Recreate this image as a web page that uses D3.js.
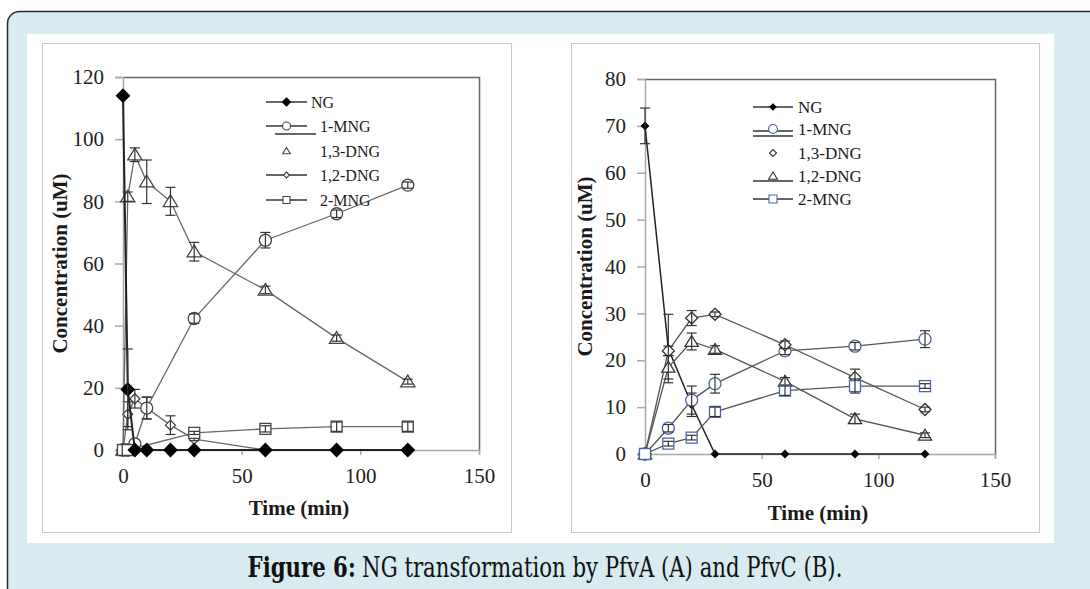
<!DOCTYPE html>
<html>
<head>
<meta charset="utf-8">
<script src="https://cdn.jsdelivr.net/npm/d3@7"></script>
<style>
  body { margin: 0; background: #fff; }
  text { font-family: "Liberation Serif", "Times New Roman", serif; }
</style>
</head>
<body>
<svg width="1090" height="589"></svg>
<script>
// ---- panel A (PfvA) ----
var timeA = [0, 2, 5, 10, 20, 30, 60, 90, 120];
var ngA = [114, 19.5, 0, 0, 0, 0, 0, 0, 0];
var ngErrA = [0, 13, 0, 0, 0, 0, 0, 0, 0];
var mng1A = [0, 0, 2, 13.5, null, 42.3, 67.5, 76, 85.2];
var mng1ErrA = [0, 0, 0, 3.5, null, 1.5, 2.5, 1.2, 1];
var dng13A = [0, 81.5, 95, 86.3, 80, 63.8, 51.5, 36, 22];
var dng13ErrA = [0, 1.5, 2.2, 7, 4.5, 3, 1.2, 1, 0.8];
var dng12A = [0, 11.5, 16.5, 13.5, 8, 3.5, 0, 0, 0];
var dng12ErrA = [0, 4, 3, 3.5, 3, 0.5, 0, 0, 0];
var mng2A = [0, 0, null, null, null, 5.5, 6.8, 7.5, 7.5];
var mng2ErrA = [0, 0, null, null, null, 0.5, 1, 1.5, 1.5];

// ---- panel B (PfvC) ----
var timeB = [0, 10, 20, 30, 60, 90, 120];
var ngB = [70, 22.5, 10.5, 0, 0, 0, 0];
var ngErrB = [3.8, 7.3, 2.5, 0, 0, 0, 0];
var mng1B = [0, 5.5, 11.5, 15, 22, 23, 24.5];
var mng1ErrB = [0, 0.8, 3, 2, 0.8, 0.8, 1.8];
var dng13B = [0, 22, 29, 29.8, 23.3, 16.3, 9.5];
var dng13ErrB = [0, 1, 1.6, 0.5, 0.8, 1.8, 0.5];
var dng12B = [0, 18.5, 24, 22.3, 15.5, 7.5, 4];
var dng12ErrB = [0, 2.5, 1.8, 0.8, 0.8, 1, 0.5];
var mng2B = [0, 2.2, 3.5, 9, 13.5, 14.5, 14.5];
var mng2ErrB = [0, 0.5, 0.5, 1, 1, 1.5, 0.5];

var xTicks = [0, 50, 100, 150];
var yTicksA = [0, 20, 40, 60, 80, 100, 120];
var yTicksB = [0, 10, 20, 30, 40, 50, 60, 70, 80];
var seriesNames = ['NG', '1-MNG', '1,3-DNG', '1,2-DNG', '2-MNG'];
var captionBold = 'Figure 6:';
var captionRest = 'NG transformation by PfvA (A) and PfvC (B).';

var blue = '#4a66a8';

var svg = d3.select('svg');

// 0. frame
// ----------------------------------
svg.append('rect')
    .attr('x', 7.5).attr('y', 11.5)
    .attr('width', 1110).attr('height', 620)
    .attr('rx', 12)
    .style('fill', '#d7ebf0')
    .style('stroke', '#2a2a2a')
    .style('stroke-width', 1.5);

svg.append('rect')
    .attr('x', 27).attr('y', 34)
    .attr('width', 1027).attr('height', 509)
    .style('fill', '#fff');

[[42, 43, 469, 489], [571, 43, 468, 489]].forEach(function (b) {
    svg.append('rect')
        .attr('x', b[0] + 0.5).attr('y', b[1] + 0.5)
        .attr('width', b[2]).attr('height', b[3])
        .style('fill', 'none')
        .style('stroke', '#c9c9c9');
});

// marker shapes
function shapePath(shape, s) {
    if (shape === 'diamond') return 'M0,' + (-s) + 'L' + s + ',0L0,' + s + 'L' + (-s) + ',0Z';
    if (shape === 'triangle') return 'M0,' + (-s) + 'L' + (s * 1.1) + ',' + (s * 0.8) + 'L' + (-s * 1.1) + ',' + (s * 0.8) + 'Z';
    if (shape === 'square') return 'M' + (-s) + ',' + (-s) + 'h' + (2 * s) + 'v' + (2 * s) + 'h' + (-2 * s) + 'Z';
    return d3.arc()({innerRadius: 0, outerRadius: s, startAngle: 0, endAngle: 2 * Math.PI});
}

function drawPanel(p) {
    var x = d3.scaleLinear().domain([0, 150]).range([p.left, p.right]);
    var y = d3.scaleLinear().domain([0, p.yMax]).range([p.bottom, p.top]);
    var g = svg.append('g');

    // plot frame (top / right darker)
    g.append('path')
        .attr('d', 'M' + p.left + ',' + (p.top + 0.5) + 'H' + (p.right + 0.5) + 'V' + p.bottom)
        .style('fill', 'none').style('stroke', '#666').style('stroke-width', 1.5);

    var yAxis = g.append('g')
        .attr('transform', 'translate(' + p.left + ',0)')
        .call(d3.axisLeft(y).tickValues(p.yTicks).tickSize(8).tickPadding(11));
    var xAxis = g.append('g')
        .attr('transform', 'translate(0,' + p.bottom + ')')
        .call(d3.axisBottom(x).tickValues(xTicks).tickSize(5).tickPadding(13));
    [yAxis, xAxis].forEach(function (a) {
        a.selectAll('path, line').style('stroke', '#a8a8a8').style('stroke-width', 1.5);
        a.selectAll('text')
            .style('font-family', '"Liberation Serif", serif')
            .style('font-size', '21px')
            .style('fill', '#222');
    });
    xAxis.select('.tick line').remove();

    g.append('text')
        .attr('transform', 'translate(' + p.yTitleX + ',' + ((p.top + p.bottom) / 2) + ') rotate(-90)')
        .attr('text-anchor', 'middle')
        .attr('dy', '0.35em')
        .style('font-weight', 'bold').style('font-size', '21px').style('fill', '#1a1a1a')
        .text('Concentration (uM)');
    g.append('text')
        .attr('x', (p.left + p.right) / 2 - 2)
        .attr('y', p.xTitleY)
        .attr('text-anchor', 'middle')
        .style('font-weight', 'bold').style('font-size', '21px').style('fill', '#1a1a1a')
        .text('Time  (min)');

    var line = d3.line()
        .x(function (d) { return x(d.t); })
        .y(function (d) { return y(d.v); });

    // draw order differs from legend order so the zero markers stack as in the figure
    p.drawOrder.forEach(function (k) {
        var s = p.series[k];
        var pts = p.time.map(function (t, i) { return {t: t, v: s.values[i], e: s.errors[i]}; });
        var valid = pts.filter(function (d) { return d.v !== null; });
        g.append('path')
            .datum(valid)
            .attr('d', line)
            .style('fill', 'none')
            .style('stroke', s.lineColor)
            .style('stroke-width', s.lineWidth);
        g.selectAll(null).data(valid).enter().append('path')
            .attr('transform', function (d) { return 'translate(' + x(d.t) + ',' + y(d.v) + ')'; })
            .attr('d', shapePath(s.shape, s.size))
            .style('fill', s.fill)
            .style('stroke', s.stroke)
            .style('stroke-width', 1.3);
        var eb = g.selectAll(null).data(valid.filter(function (d) { return d.e > 0; })).enter()
            .append('g').style('stroke', '#333').style('stroke-width', 1.2);
        eb.append('line')
            .attr('x1', function (d) { return x(d.t); }).attr('x2', function (d) { return x(d.t); })
            .attr('y1', function (d) { return y(d.v - d.e); }).attr('y2', function (d) { return y(d.v + d.e); });
        [1, -1].forEach(function (sg) {
            eb.append('line')
                .attr('x1', function (d) { return x(d.t) - 5; }).attr('x2', function (d) { return x(d.t) + 5; })
                .attr('y1', function (d) { return y(d.v + sg * d.e); }).attr('y2', function (d) { return y(d.v + sg * d.e); });
        });
    });

    // legend
    var lg = g.append('g');
    p.series.forEach(function (s, i) {
        var ly = p.legendY[i];
        var L = p.legend;
        if (s.legendLine !== false) {
            lg.append('line')
                .attr('x1', L.x1).attr('x2', L.x2)
                .attr('y1', ly + (s.legendLineDy || 0)).attr('y2', ly + (s.legendLineDy || 0))
                .style('stroke', '#333').style('stroke-width', 1.5);
        }
        if (s.legendExtra) {
            lg.append('line')
                .attr('x1', L.x1 + s.legendExtra[0]).attr('x2', L.x2 + s.legendExtra[0])
                .attr('y1', ly + s.legendExtra[1]).attr('y2', ly + s.legendExtra[1])
                .style('stroke', '#333').style('stroke-width', 1.5);
        }
        lg.append('path')
            .attr('transform', 'translate(' + ((L.x1 + L.x2) / 2) + ',' + ly + ')')
            .attr('d', shapePath(s.shape, s.legendSize))
            .style('fill', s.fill).style('stroke', s.stroke).style('stroke-width', 1.1);
        lg.append('text')
            .attr('x', i === 0 ? L.textX0 : L.textX)
            .attr('y', ly)
            .attr('dy', '0.35em')
            .style('font-size', L.fontSize + 'px')
            .style('fill', '#1a1a1a')
            .text(seriesNames[i]);
    });
}

drawPanel({
    left: 123, right: 479, top: 77, bottom: 450, yMax: 120,
    yTicks: yTicksA, yTitleX: 60, xTitleY: 515,
    time: timeA,
    drawOrder: [3, 2, 1, 4, 0],
    legend: {x1: 266, x2: 307, textX0: 311, textX: 320, fontSize: 16},
    legendY: [102, 126, 151, 175, 200],
    series: [
        {values: ngA, errors: ngErrA, shape: 'diamond', size: 6.5, fill: '#000', stroke: '#000', lineColor: '#222', lineWidth: 2, legendSize: 4},
        {values: mng1A, errors: mng1ErrA, shape: 'circle', size: 6, fill: '#fff', stroke: '#444', lineColor: '#666', lineWidth: 1.3, legendSize: 4, legendExtra: [9, 8]},
        {values: dng13A, errors: dng13ErrA, shape: 'triangle', size: 6.5, fill: '#fff', stroke: '#444', lineColor: '#666', lineWidth: 1.3, legendSize: 3.5, legendLine: false},
        {values: dng12A, errors: dng12ErrA, shape: 'diamond', size: 5, fill: '#fff', stroke: '#444', lineColor: '#666', lineWidth: 1.3, legendSize: 3},
        {values: mng2A, errors: mng2ErrA, shape: 'square', size: 5.5, fill: '#fff', stroke: '#444', lineColor: '#666', lineWidth: 1.3, legendSize: 3.5}
    ]
});

drawPanel({
    left: 645, right: 995, top: 79, bottom: 454, yMax: 80,
    yTicks: yTicksB, yTitleX: 585, xTitleY: 520,
    time: timeB,
    drawOrder: [0, 1, 2, 3, 4],
    legend: {x1: 753, x2: 793, textX0: 798, textX: 798, fontSize: 17},
    legendY: [107, 129, 153, 176, 199],
    series: [
        {values: ngB, errors: ngErrB, shape: 'diamond', size: 3.5, fill: '#000', stroke: '#000', lineColor: '#222', lineWidth: 1.5, legendSize: 3},
        {values: mng1B, errors: mng1ErrB, shape: 'circle', size: 6, fill: '#fff', stroke: blue, lineColor: '#555', lineWidth: 1.3, legendSize: 4.5, legendLineDy: 2, legendExtra: [0, 7]},
        {values: dng13B, errors: dng13ErrB, shape: 'diamond', size: 6, fill: '#fff', stroke: '#333', lineColor: '#555', lineWidth: 1.3, legendSize: 3.5, legendLine: false},
        {values: dng12B, errors: dng12ErrB, shape: 'triangle', size: 6, fill: '#fff', stroke: '#333', lineColor: '#555', lineWidth: 1.3, legendSize: 4, legendLineDy: 5},
        {values: mng2B, errors: mng2ErrB, shape: 'square', size: 5.5, fill: '#fff', stroke: blue, lineColor: '#555', lineWidth: 1.3, legendSize: 4}
    ]
});

// caption: two text pieces, font sized to span the same width as the figure's caption,
// then stretched vertically since the source glyphs are taller than they are wide
var capGroup = svg.append('g')
    .attr('transform', 'translate(0,577) scale(1,1.3) translate(0,-577)');
var capB = capGroup.append('text')
    .style('font-family', '"DejaVu Serif", serif')
    .style('font-weight', 'bold')
    .style('fill', '#111')
    .text(captionBold);
var capR = capGroup.append('text')
    .style('font-family', '"DejaVu Serif", serif')
    .style('fill', '#111')
    .text(captionRest);
var baseSize = 20;
capB.style('font-size', baseSize + 'px');
capR.style('font-size', baseSize + 'px');
var total = capB.node().getComputedTextLength() + 0.3 * baseSize + capR.node().getComputedTextLength();
var fs = baseSize * 595 / total;
capB.style('font-size', fs + 'px');
capR.style('font-size', fs + 'px');
var wB = capB.node().getComputedTextLength();
var wR = capR.node().getComputedTextLength();
var startX = 545 - (wB + 0.3 * fs + wR) / 2;
capB.attr('x', startX).attr('y', 577);
capR.attr('x', startX + wB + 0.3 * fs).attr('y', 577);
</script>
</body>
</html>
